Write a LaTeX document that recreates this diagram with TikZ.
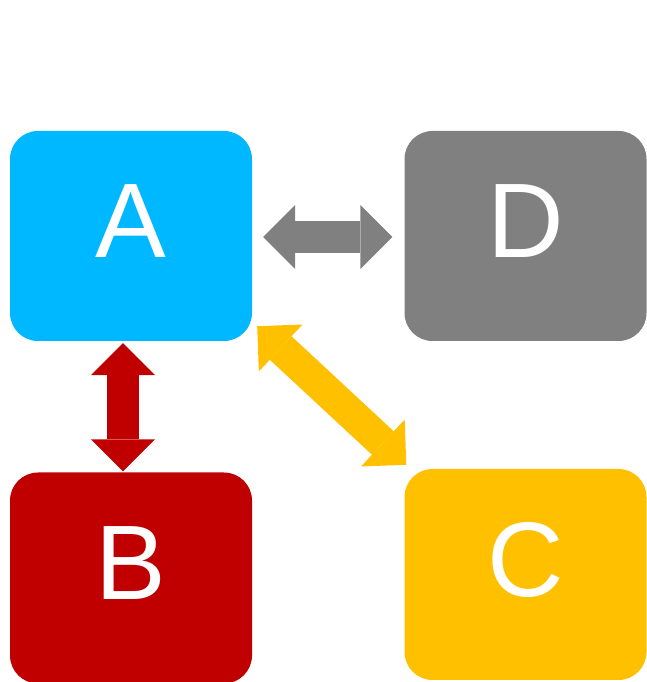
\documentclass[tikz,border=0pt]{standalone}
\usepackage{fontspec}
\setmainfont{Liberation Sans}
\usepackage{xcolor}
\usetikzlibrary{positioning,arrows.meta}

\definecolor{boxblue}{HTML}{00B8FF}
\definecolor{boxgray}{HTML}{808080}
\definecolor{boxred}{HTML}{C00000}
\definecolor{boxyellow}{HTML}{FFC000}

\begin{document}
\begin{tikzpicture}[
    x=1pt, y=1pt,
    >={Triangle[length=32pt, width=64pt, line width=0pt]},
    block/.style={rectangle, rounded corners=28pt, minimum width=242pt, minimum height=210pt,
        inner sep=0pt, text=white, text depth=30pt, font=\fontsize{106}{120}\selectfont},
    link/.style={<->, line width=32pt}
]
\useasboundingbox (0,0) rectangle (646,682);

% === Blocks ===
\node[block, fill=boxblue] (A) at (131, 446) {A};
\node[block, fill=boxgray] (D) at (525.5, 446) {D};
\node[block, fill=boxred, minimum height=211pt] (B) at (131, 104) {B};
\node[block, fill=boxyellow, minimum height=211pt] (C) at (525.5, 107.5) {C};

% === Links ===
\draw[link, boxgray] ([shift={(11pt,-1pt)}]A.east) -- ([shift={(-12pt,-1pt)}]D.west);
\draw[link, boxred] ([shift={(-8pt,-2pt)}]A.south) -- ([shift={(-8pt,1pt)}]B.north);
\draw[link, boxyellow] ([shift={(5pt,15pt)}]A.south east) -- ([shift={(2pt,4pt)}]C.north west);
\end{tikzpicture}
\end{document}
